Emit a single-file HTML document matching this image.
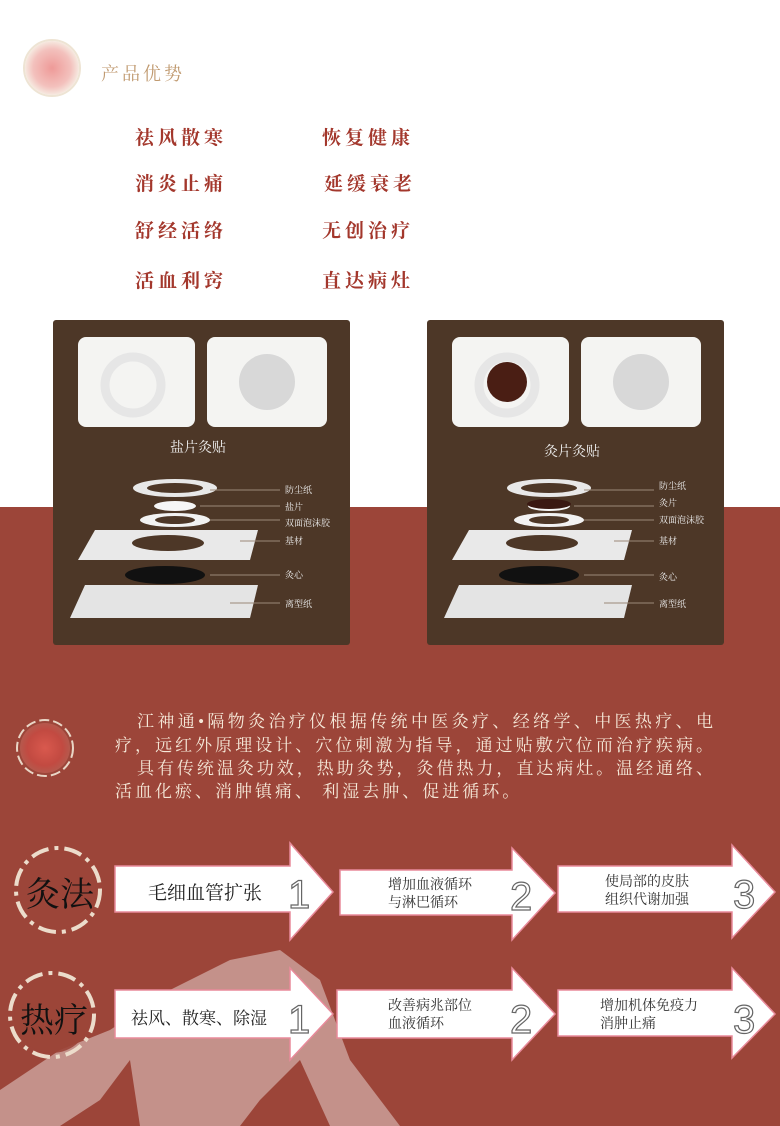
<!DOCTYPE html>
<html><head><meta charset="utf-8"><style>
body{margin:0;width:780px;height:1126px;position:relative;overflow:hidden;background:#fff;font-family:"Liberation Serif","Noto Serif CJK SC",serif}
.a{position:absolute;white-space:nowrap}
.f{font-size:19px;font-weight:bold;color:#a3372c;letter-spacing:4px}
.p{font-size:17px;color:#f5e8d8;width:598px;left:115px}
.j{text-align-last:justify}
.t{font-size:14px;color:#333;line-height:18px}
</style></head><body>
<div class="a" style="left:0;top:507px;width:780px;height:619px;background:#9c4539"></div>
<svg class="a" style="left:0;top:0" width="780" height="1126">
<defs><radialGradient id="g"><stop offset="0" stop-color="#ee9a98"/><stop offset=".7" stop-color="#f3c1bd"/><stop offset="1" stop-color="#f6e9e0"/></radialGradient>
<radialGradient id="g2"><stop offset="0" stop-color="#d9594e"/><stop offset=".7" stop-color="#c24a41"/><stop offset="1" stop-color="#b5594d"/></radialGradient></defs>
<circle cx="52" cy="68" r="27" fill="url(#g)"/>
<circle cx="52" cy="68" r="28" fill="none" stroke="#eee4d4" stroke-width="2"/>
<!-- mountains -->
<circle cx="262" cy="1010" r="50" fill="#c4918a"/>
<path d="M0 1090 L60 1050 L110 1030 L170 990 L230 960 L280 950 L320 980 L350 1060 L400 1126 L330 1126 L300 1060 L260 1100 L240 1126 L140 1126 L130 1060 L100 1100 L60 1126 L0 1126Z" fill="#c4918a"/>
<!-- paragraph circle -->
<circle cx="45" cy="748" r="25" fill="url(#g2)"/>
<circle cx="45" cy="748" r="28" fill="none" stroke="#e9d6c6" stroke-width="2" stroke-dasharray="10 4"/>
<circle cx="58" cy="890" r="42" fill="none" stroke="#ecdccb" stroke-width="4" stroke-dasharray="18 6 4 6"/>
<circle cx="52" cy="1015" r="42" fill="none" stroke="#ecdccb" stroke-width="4" stroke-dasharray="18 6 4 6"/>
<circle cx="58" cy="890" r="38" fill="#9c4539"/>
<circle cx="52" cy="1015" r="38" fill="#9c4539" opacity=".9"/>
<!-- arrows -->
<g fill="#fff" stroke="#e88a9a" stroke-width="1.5">
<path d="M115 866H290V843L333 892L290 940V912H115Z"/>
<path d="M340 870H512V848L555 893L512 940V915H340Z"/>
<path d="M558 866H732V845L775 892L732 938V912H558Z"/>
<path d="M115 990H290V968L333 1014L290 1060V1038H115Z"/>
<path d="M337 990H512V968L555 1014L512 1060V1038H337Z"/>
<path d="M558 990H732V968L775 1014L732 1058V1036H558Z"/>
</g>
<g font-family="Liberation Sans,sans-serif" font-size="40" fill="#fff" stroke="#666" stroke-width="1.2">
<text x="288" y="908">1</text><text x="510" y="910">2</text><text x="733" y="908">3</text>
<text x="288" y="1033">1</text><text x="510" y="1033">2</text><text x="733" y="1033">3</text>
</g>
<!-- panels -->
<rect x="53" y="320" width="297" height="325" rx="3" fill="#4d3727"/>
<rect x="427" y="320" width="297" height="325" rx="3" fill="#4d3727"/>
<g id="p1">
<rect x="78" y="337" width="117" height="90" rx="8" fill="#f4f4f2"/>
<rect x="207" y="337" width="120" height="90" rx="8" fill="#f4f4f2"/>
<circle cx="267" cy="382" r="28" fill="#d8d8d8"/>
<circle cx="133" cy="385" r="28" fill="none" stroke="#e6e6e6" stroke-width="9"/>
<ellipse cx="175" cy="488" rx="42" ry="9" fill="#e8e8e8"/><ellipse cx="175" cy="488" rx="28" ry="5" fill="#4d3727"/>
<ellipse cx="175" cy="506" rx="21" ry="5" fill="#f6f6f6"/>
<ellipse cx="175" cy="520" rx="35" ry="7" fill="#f2f2f2"/><ellipse cx="175" cy="520" rx="20" ry="4" fill="#4d3727"/>
<path d="M78 560L95 530H258L250 560Z" fill="#e9e9e9"/><ellipse cx="168" cy="543" rx="36" ry="8" fill="#4d3727"/>
<ellipse cx="165" cy="575" rx="40" ry="9" fill="#111"/>
<path d="M70 618L85 585H258L250 618Z" fill="#e4e4e4"/>
<g stroke="#9a8878" stroke-width="1"><line x1="210" y1="490" x2="280" y2="490"/><line x1="200" y1="506" x2="280" y2="506"/><line x1="210" y1="520" x2="280" y2="520"/><line x1="240" y1="541" x2="280" y2="541"/><line x1="210" y1="575" x2="280" y2="575"/><line x1="230" y1="603" x2="280" y2="603"/></g>
</g>
<use href="#p1" transform="translate(374,0)"/>
<circle cx="507" cy="382" r="20" fill="#4a1e14"/>
<ellipse cx="549" cy="504" rx="22" ry="5" fill="#3a1812"/>
</svg>
<div class="a" style="left:101px;top:60px;font-size:18px;color:#c09a70;letter-spacing:3px">产品优势</div>
<div class="a f" style="left:135px;top:123px">祛风散寒</div><div class="a f" style="left:322px;top:123px">恢复健康</div>
<div class="a f" style="left:135px;top:169px">消炎止痛</div><div class="a f" style="left:324px;top:169px">延缓衰老</div>
<div class="a f" style="left:135px;top:216px">舒经活络</div><div class="a f" style="left:322px;top:216px">无创治疗</div>
<div class="a f" style="left:135px;top:266px">活血利窍</div><div class="a f" style="left:322px;top:266px">直达病灶</div>
<div class="a" style="left:170px;top:437px;font-size:14px;color:#f0f0f0">盐片灸贴</div>
<div class="a" style="left:544px;top:441px;font-size:14px;color:#f0f0f0">灸片灸贴</div>
<div class="a" style="left:285px;top:482px;font-size:9px;color:#eee;line-height:16.5px">防尘纸<br>盐片<br>双面泡沫胶</div>
<div class="a" style="left:285px;top:534px;font-size:9px;color:#eee">基材</div>
<div class="a" style="left:285px;top:568px;font-size:9px;color:#eee">灸心</div>
<div class="a" style="left:285px;top:597px;font-size:9px;color:#eee">离型纸</div>
<div class="a" style="left:659px;top:478px;font-size:9px;color:#eee;line-height:17px">防尘纸<br>灸片<br>双面泡沫胶</div>
<div class="a" style="left:659px;top:534px;font-size:9px;color:#eee">基材</div>
<div class="a" style="left:659px;top:570px;font-size:9px;color:#eee">灸心</div>
<div class="a" style="left:659px;top:597px;font-size:9px;color:#eee">离型纸</div>
<div class="a p j" style="top:707px;padding-left:22px;width:576px">江神通•隔物灸治疗仪根据传统中医灸疗、经络学、中医热疗、电</div>
<div class="a p j" style="top:731px">疗，远红外原理设计、穴位刺激为指导，通过贴敷穴位而治疗疾病。</div>
<div class="a p j" style="top:754px;padding-left:22px;width:576px">具有传统温灸功效，热助灸势，灸借热力，直达病灶。温经通络、</div>
<div class="a p" style="top:777px;letter-spacing:3px">活血化瘀、消肿镇痛、 利湿去肿、促进循环。</div>
<div class="a" style="left:26px;top:867px;font-size:34px;color:#111">灸法</div>
<div class="a" style="left:20px;top:993px;font-size:34px;color:#111">热疗</div>
<div class="a" style="left:148px;top:878px;font-size:19px;color:#222">毛细血管扩张</div>
<div class="a t" style="left:388px;top:877px">增加血液循环<br>与淋巴循环</div>
<div class="a t" style="left:605px;top:874px">使局部的皮肤<br>组织代谢加强</div>
<div class="a" style="left:131px;top:1004px;font-size:17px;color:#222">祛风、散寒、除湿</div>
<div class="a t" style="left:388px;top:998px">改善病兆部位<br>血液循环</div>
<div class="a t" style="left:600px;top:998px">增加机体免疫力<br>消肿止痛</div>
</body></html>
